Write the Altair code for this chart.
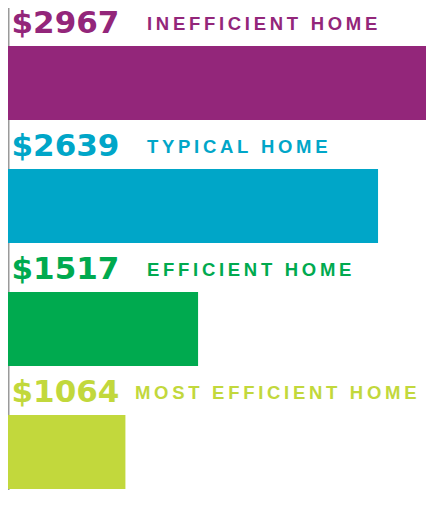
import altair as alt
import pandas as pd

homes = ["INEFFICIENT HOME", "TYPICAL HOME", "EFFICIENT HOME", "MOST EFFICIENT HOME"]
costs = [2967, 2639, 1517, 1064]
colors = ["#93267a", "#00a6c8", "#00aa4f", "#c2d83c"]

df = pd.DataFrame({"home": homes, "cost": costs, "color": colors})
df["amount"] = ["$" + str(c) for c in costs]
df["spaced"] = ["\u2009".join(h) for h in homes]
df["order"] = list(range(len(homes)))

TOP = 10
W, H = 418, 482 - TOP

y = alt.Y("home:N", sort=homes, axis=None,
          scale=alt.Scale(paddingInner=0, paddingOuter=0, range=[0, 492]))
col = alt.Color("color:N", scale=None, legend=None)

rule = alt.Chart(pd.DataFrame({"k": [0]})).mark_rule(
    color="#9a9a9a", strokeWidth=1.5
).encode(x=alt.value(0.75), y=alt.value(-TOP), y2=alt.value(H))

bars = alt.Chart(df).mark_bar(size=74, yOffset=13.5 - TOP).encode(
    x=alt.X("cost:Q", scale=alt.Scale(domain=[332, 2938], zero=False), axis=None),
    x2=alt.value(1.5),
    y=y,
    color=col,
)

amounts = alt.Chart(df).mark_text(
    align="left", baseline="alphabetic", dy=-36.5 - TOP,
    font="DejaVu Sans", fontWeight="bold", fontSize=31
).encode(x=alt.value(3.5), y=y, text="amount:N", color=col)

label_base = alt.Chart(df).mark_text(
    align="left", baseline="alphabetic", dy=-39.5 - TOP,
    font="Liberation Sans", fontWeight="bold", fontSize=18.5
)
labels_a = label_base.transform_filter(alt.datum.order < 3).encode(
    x=alt.value(139), y=y, text="spaced:N", color=col)
labels_b = label_base.transform_filter(alt.datum.order == 3).encode(
    x=alt.value(127), y=y, text="spaced:N", color=col)

chart = alt.layer(rule, bars, amounts, labels_a, labels_b).properties(
    width=W, height=H,
    padding={"left": 0, "top": TOP, "right": 0, "bottom": 0},
    autosize=alt.AutoSizeParams(type="none"),
).configure_view(stroke=None)

chart.save("out.html", embed_options={"renderer": "svg", "actions": False})
